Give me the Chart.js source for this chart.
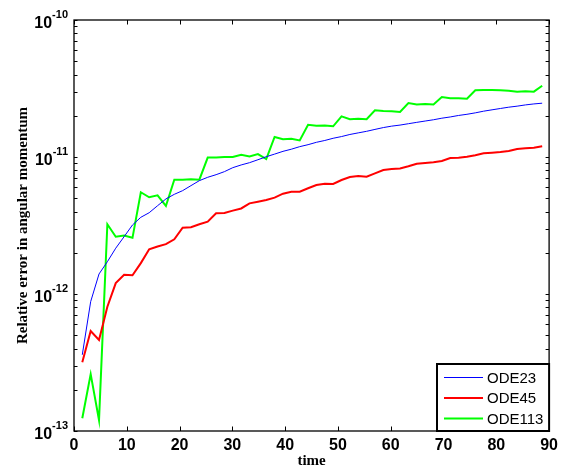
<!DOCTYPE html>
<html>
<head>
<meta charset="utf-8">
<title>Relative error in angular momentum</title>
<script src="https://cdn.jsdelivr.net/npm/chart.js@4.4.1/dist/chart.umd.min.js"></script>
<style>
  html, body { margin: 0; padding: 0; background: #fff; }
  #wrap { width: 563px; height: 470px; }
</style>
</head>
<body>
<div id="wrap"><canvas id="chart" width="563" height="470"></canvas></div>
<script>
/* ---- Datos ---- */
const times = [1.57, 3.16, 4.74, 6.32, 7.91, 9.49, 11.08, 12.66, 14.24, 15.83,
  17.41, 19.0, 20.58, 22.16, 23.75, 25.33, 26.92, 28.5, 30.08, 31.67,
  33.25, 34.84, 36.42, 38.0, 39.59, 41.17, 42.76, 44.34, 45.92, 47.51,
  49.09, 50.68, 52.26, 53.84, 55.43, 57.01, 58.6, 60.18, 61.76, 63.35,
  64.93, 66.52, 68.1, 69.68, 71.27, 72.85, 74.44, 76.02, 77.6, 79.19,
  80.77, 82.36, 83.94, 85.52, 87.11, 88.69];

const ode23 = [3.6e-13, 8.8e-13, 1.40e-12, 1.72e-12, 2.16e-12, 2.62e-12, 3.19e-12, 3.63e-12, 3.92e-12, 4.41e-12,
  4.94e-12, 5.34e-12, 5.68e-12, 6.18e-12, 6.72e-12, 7.11e-12, 7.43e-12, 7.82e-12, 8.36e-12, 8.75e-12,
  9.09e-12, 9.55e-12, 1.005e-11, 1.05e-11, 1.10e-11, 1.14e-11, 1.19e-11, 1.23e-11, 1.28e-11, 1.32e-11,
  1.37e-11, 1.41e-11, 1.46e-11, 1.50e-11, 1.54e-11, 1.59e-11, 1.64e-11, 1.68e-11, 1.71e-11, 1.75e-11,
  1.79e-11, 1.83e-11, 1.87e-11, 1.92e-11, 1.96e-11, 2.01e-11, 2.05e-11, 2.10e-11, 2.16e-11, 2.21e-11,
  2.26e-11, 2.31e-11, 2.35e-11, 2.40e-11, 2.44e-11, 2.47e-11];

const ode45 = [3.17e-13, 5.37e-13, 4.62e-13, 8.07e-13, 1.20e-12, 1.38e-12, 1.37e-12, 1.68e-12, 2.12e-12, 2.22e-12,
  2.31e-12, 2.51e-12, 3.05e-12, 3.07e-12, 3.23e-12, 3.37e-12, 3.88e-12, 3.90e-12, 4.06e-12, 4.21e-12,
  4.59e-12, 4.72e-12, 4.85e-12, 5.05e-12, 5.40e-12, 5.58e-12, 5.58e-12, 5.91e-12, 6.25e-12, 6.39e-12,
  6.35e-12, 6.79e-12, 7.15e-12, 7.27e-12, 7.18e-12, 7.60e-12, 8.04e-12, 8.17e-12, 8.24e-12, 8.55e-12,
  8.93e-12, 9.04e-12, 9.15e-12, 9.35e-12, 9.84e-12, 9.89e-12, 1.005e-11, 1.029e-11, 1.064e-11, 1.075e-11,
  1.088e-11, 1.106e-11, 1.144e-11, 1.157e-11, 1.169e-11, 1.197e-11];

const ode113 = [1.24e-13, 2.6e-13, 1.2e-13, 3.23e-12, 2.62e-12, 2.67e-12, 2.57e-12, 5.53e-12, 5.08e-12, 5.25e-12,
  4.39e-12, 6.83e-12, 6.83e-12, 6.88e-12, 6.83e-12, 9.9e-12, 9.9e-12, 1.0e-11, 1.0e-11, 1.04e-11,
  1.01e-11, 1.05e-11, 9.67e-12, 1.40e-11, 1.35e-11, 1.36e-11, 1.32e-11, 1.72e-11, 1.69e-11, 1.70e-11,
  1.675e-11, 1.98e-11, 1.89e-11, 1.90e-11, 1.89e-11, 2.19e-11, 2.17e-11, 2.16e-11, 2.13e-11, 2.48e-11,
  2.42e-11, 2.44e-11, 2.42e-11, 2.74e-11, 2.68e-11, 2.68e-11, 2.66e-11, 3.07e-11, 3.08e-11, 3.08e-11,
  3.07e-11, 3.05e-11, 3.00e-11, 3.02e-11, 3.00e-11, 3.31e-11];

const xTicks = [0, 10, 20, 30, 40, 50, 60, 70, 80, 90];
const yDecades = [-13, -12, -11, -10];

const SANS = '"Liberation Sans", Arial, Helvetica, sans-serif';
const SERIF = '"Liberation Serif", "Times New Roman", Times, serif';

const pts = arr => arr.map((v, i) => ({ x: times[i], y: v }));

/* ---- Ejes estilo MATLAB: caja, ticks hacia dentro, etiquetas 10^n, leyenda ---- */
const matlabAxes = {
  id: 'matlabAxes',
  afterDatasetsDraw(chart) {
    const { ctx, chartArea: a, scales: { x, y } } = chart;
    ctx.save();
    ctx.strokeStyle = '#000';
    ctx.lineWidth = 1;
    ctx.beginPath();
    xTicks.forEach(v => {
      const px = Math.round(x.getPixelForValue(v)) + 0.5;
      ctx.moveTo(px, a.bottom); ctx.lineTo(px, a.bottom - 4.5);
      ctx.moveTo(px, a.top); ctx.lineTo(px, a.top + 4.5);
    });
    yDecades.forEach(e => {
      for (let m = 1; m <= 9; m++) {
        if (e === -10 && m > 1) break;
        const py = Math.round(y.getPixelForValue(m * Math.pow(10, e))) + 0.5;
        ctx.moveTo(a.left, py); ctx.lineTo(a.left + 3.5, py);
        ctx.moveTo(a.right, py); ctx.lineTo(a.right - 3.5, py);
      }
    });
    ctx.stroke();

    ctx.lineWidth = 1.3;
    ctx.strokeRect(a.left, a.top, a.right - a.left, a.bottom - a.top);

    // etiquetas del eje y con exponente
    ctx.fillStyle = '#000';
    ctx.textBaseline = 'alphabetic';
    yDecades.forEach(e => {
      const py = y.getPixelForValue(Math.pow(10, e));
      ctx.font = 'bold 11px ' + SANS;
      ctx.textAlign = 'left';
      const expW = ctx.measureText(String(e)).width;
      const expX = a.left - 6 - expW;
      ctx.fillText(String(e), expX, py - 2);
      ctx.font = 'bold 16px ' + SANS;
      ctx.textAlign = 'right';
      ctx.fillText('10', expX, py + 7.5);
    });

    // leyenda
    const lx = 437, ly = 364, lw = a.right - lx, lh = a.bottom - ly;
    ctx.fillStyle = '#fff';
    ctx.fillRect(lx, ly, lw, lh);
    ctx.lineWidth = 2;
    ctx.strokeRect(lx, ly, lw, lh);
    ctx.font = '15px ' + SANS;
    ctx.textAlign = 'left';
    ctx.textBaseline = 'middle';
    chart.data.datasets.forEach((ds, i) => {
      const yy = ly + 13.5 + i * 20.5;
      ctx.strokeStyle = ds.borderColor;
      ctx.lineWidth = ds.borderWidth;
      ctx.beginPath();
      ctx.moveTo(lx + 7, yy); ctx.lineTo(lx + 46, yy);
      ctx.stroke();
      ctx.fillStyle = '#000';
      ctx.fillText(ds.label, lx + 50, yy + 1);
    });
    ctx.restore();
  }
};

new Chart(document.getElementById('chart'), {
  type: 'line',
  data: {
    datasets: [
      { label: 'ODE23', data: pts(ode23), borderColor: '#0000ff', borderWidth: 1 },
      { label: 'ODE45', data: pts(ode45), borderColor: '#ff0000', borderWidth: 2 },
      { label: 'ODE113', data: pts(ode113), borderColor: '#00ff00', borderWidth: 2 }
    ]
  },
  options: {
    responsive: false,
    animation: false,
    devicePixelRatio: 1,
    layout: { padding: { top: 20, right: 13, left: 0, bottom: 0 } },
    elements: { point: { radius: 0 }, line: { tension: 0 } },
    plugins: { legend: { display: false }, tooltip: { enabled: false } },
    scales: {
      x: {
        type: 'linear', min: 0, max: 90,
        afterFit: s => { s.height = 39; },
        grid: { display: false, drawTicks: false },
        border: { display: false },
        ticks: {
          stepSize: 10, padding: 5, color: '#000',
          font: { family: SANS, size: 16, weight: 'bold' }
        },
        title: {
          display: true, text: 'time', color: '#000', padding: 0,
          font: { family: SERIF, size: 15, weight: 'bold' }
        }
      },
      y: {
        type: 'logarithmic', min: 1e-13, max: 1e-10,
        afterFit: s => { s.width = 74; },
        grid: { display: false, drawTicks: false },
        border: { display: false },
        ticks: { display: false },
        title: {
          display: true, text: 'Relative error in angular momentum', color: '#000',
          padding: { top: 14, bottom: 0 },
          font: { family: SERIF, size: 15, weight: 'bold' }
        }
      }
    }
  },
  plugins: [matlabAxes]
});
</script>
</body>
</html>
